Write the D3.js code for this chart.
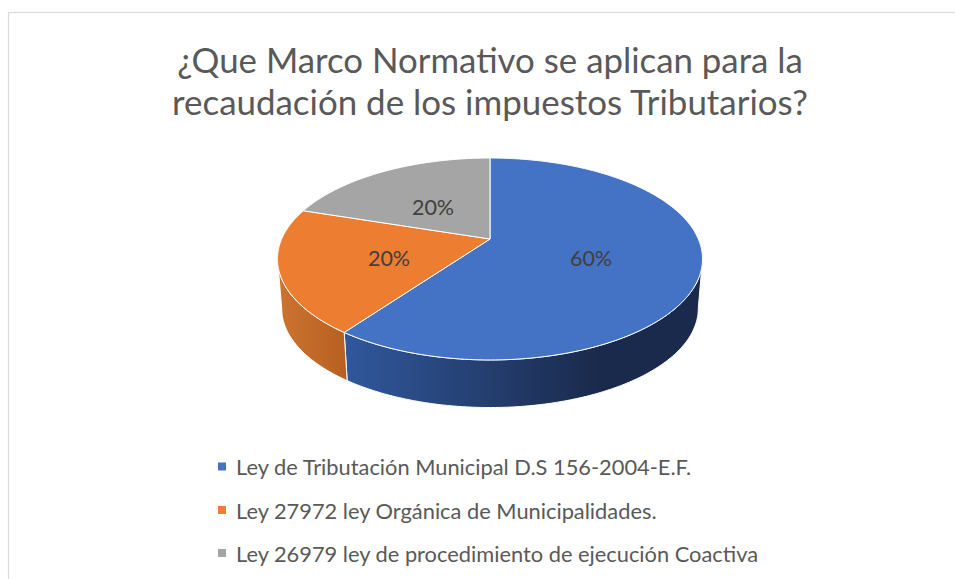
<!DOCTYPE html>
<html><head><meta charset="utf-8">
<script src="https://cdn.jsdelivr.net/npm/d3@7"></script>
<style>html,body{margin:0;padding:0;background:#fff;}svg{display:block;}</style>
</head><body>
<svg id="c" width="955" height="579"></svg>
<script>
const titleLines = ["¿Que Marco Normativo se aplican para la", "recaudación de los impuestos Tributarios?"];
const categories = ["Ley de Tributación Municipal D.S 156-2004-E.F.",
  "Ley 27972 ley Orgánica de Municipalidades.",
  "Ley 26979 ley de procedimiento de ejecución Coactiva"];
const values = [60, 20, 20];
const labels = ["60%", "20%", "20%"];
const topColors = ["#4472C4", "#ED7D31", "#A5A5A5"];
const sideColorsLeft = ["#30579B", "#CD7430", "#8A8A8A"];
const sideColorsRight = ["#1A2A4C", "#B65F20", "#6E6E6E"];

const svg = d3.select("#c");
const font = "Lato, 'Open Sans', 'Noto Sans', sans-serif";

// chart border
svg.append("rect").attr("x", 8.5).attr("y", 12.5).attr("width", 1000).attr("height", 700)
  .attr("fill", "#fff").attr("stroke", "#D9D9D9").attr("stroke-width", 1.2);

function fitText(sel, target) {
  let fs = parseFloat(sel.attr("font-size"));
  const w = sel.node().getComputedTextLength();
  sel.attr("font-size", (fs * target / w).toFixed(2));
}

// title
const tW = [626, 636], tY = [73, 115];
titleLines.forEach((t, i) => {
  const s = svg.append("text").attr("x", 490).attr("y", tY[i]).attr("text-anchor", "middle")
    .attr("font-family", font).attr("font-size", 32).attr("fill", "#595959").text(t);
  fitText(s, tW[i]);
});

// perspective pie geometry
const cx = 490, cy0 = 239, a = 208.3, b = 97.0, k = 0.198, s = 0.98, dy = 50;
function proj(th, z) {
  const u = Math.sin(th), v = Math.cos(th), den = 1 + k * v;
  if (!z) return [cx + a * u / den, cy0 - b * v / den];
  return [cx + s * a * u / den, cy0 + dy - s * b * v / den];
}
const pie = d3.pie().sort(null).value(d => d);
const arcs = pie(values);
const thR = Math.acos(-k);
const thL = 2 * Math.PI - Math.acos(-k);

function arcPts(t0, t1, z) {
  const n = Math.max(2, Math.ceil((t1 - t0) / 0.01));
  const pts = [];
  for (let i = 0; i <= n; i++) pts.push(proj(t0 + (t1 - t0) * i / n, z));
  return pts;
}
const line = d3.line();

const defs = svg.append("defs");
const xL = cx - a * 1.03, xR = cx + a * 1.03;
arcs.forEach((d, i) => {
  const g = defs.append("linearGradient").attr("id", "side" + i)
    .attr("gradientUnits", "userSpaceOnUse").attr("x1", xL).attr("x2", xR).attr("y1", 0).attr("y2", 0);
  g.append("stop").attr("offset", 0).attr("stop-color", i === 0 ? "#3A66B0" : sideColorsLeft[i]);
  g.append("stop").attr("offset", i === 0 ? 0.17 : 0.0).attr("stop-color", sideColorsLeft[i]);
  g.append("stop").attr("offset", i === 0 ? 0.75 : 0.17).attr("stop-color", sideColorsRight[i]);
  g.append("stop").attr("offset", 1).attr("stop-color", sideColorsRight[i]);
});

// sides
const sides = svg.append("g");
arcs.forEach((d, i) => {
  const t0 = Math.max(d.startAngle, thR), t1 = Math.min(d.endAngle, thL);
  if (t1 <= t0) return;
  const top = arcPts(t0, t1, 0), bot = arcPts(t0, t1, 1).reverse();
  sides.append("path").attr("d", line(top.concat(bot)) + "Z")
    .attr("fill", `url(#side${i})`).attr("stroke", "#fff").attr("stroke-width", 1)
    .attr("stroke-linejoin", "round");
});

// top faces
const tops = svg.append("g");
const centerPt = [cx, cy0];
arcs.forEach((d, i) => {
  const pts = [centerPt].concat(arcPts(d.startAngle, d.endAngle, 0));
  tops.append("path").attr("d", line(pts) + "Z")
    .attr("fill", topColors[i]).attr("stroke", "#fff").attr("stroke-width", 1)
    .attr("stroke-linejoin", "round");
});

// data labels
const labelPos = [[591, 258], [389, 258], [433, 207]];
arcs.forEach((d, i) => {
  svg.append("text").attr("x", labelPos[i][0]).attr("y", labelPos[i][1])
    .attr("text-anchor", "middle").attr("dominant-baseline", "central")
    .attr("font-family", font).attr("font-size", 21.5).attr("fill", "#404040").text(labels[i]);
});

// legend
const legY = [466.5, 510, 553];
const lg = svg.append("g");
let legFs = 18;
categories.forEach((c, i) => {
  lg.append("rect").attr("x", 218).attr("y", legY[i] - 4).attr("width", 8).attr("height", 8)
    .attr("fill", topColors[i]);
  const t = lg.append("text").attr("x", 236).attr("y", legY[i]).attr("dominant-baseline", "central")
    .attr("font-family", font).attr("font-size", legFs).attr("fill", "#595959").text(c);
  if (i === 0) { fitText(t, 455); legFs = parseFloat(t.attr("font-size")); }
  else t.attr("font-size", legFs);
});
</script>
</body></html>
